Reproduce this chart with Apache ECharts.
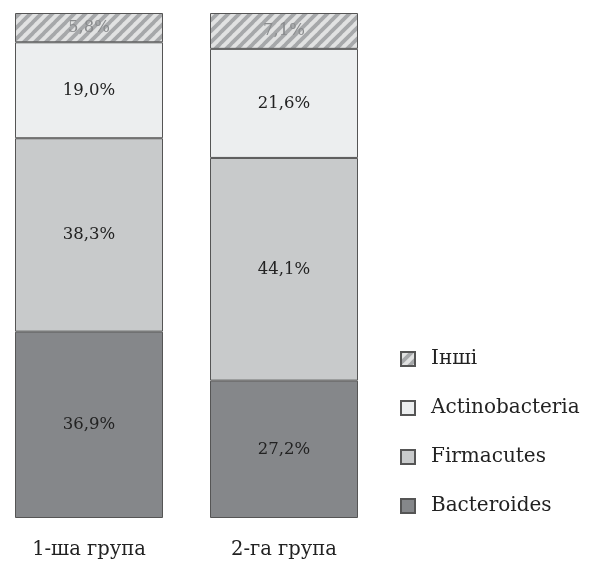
<!DOCTYPE html>
<html><head><meta charset="utf-8">
<script src="https://cdn.jsdelivr.net/npm/echarts@6/dist/echarts.min.js"></script>
<style>html,body{margin:0;padding:0;background:#fff}#c{width:590px;height:561px}</style>
</head><body><div id="c"></div>
<script>
const categories = ['1-ша група', '2-га група'];
const bacteroides = [36.9, 27.2];
const firmacutes = [38.3, 44.1];
const actinobacteria = [19.0, 21.6];
const others = [5.8, 7.1];
const legendOrder = ['Інші', 'Actinobacteria', 'Firmacutes', 'Bacteroides'];

function hatch() {
  const s = 11;
  const c = document.createElement('canvas');
  c.width = s; c.height = s;
  const g = c.getContext('2d');
  g.fillStyle = '#e1e2e2';
  g.fillRect(0, 0, s, s);
  g.strokeStyle = '#a6a8aa';
  g.lineWidth = 3.8;
  for (let k = -1; k <= 1; k++) {
    g.beginPath();
    g.moveTo(k * s - 1, s + 1);
    g.lineTo(k * s + s + 1, -1);
    g.stroke();
  }
  return c;
}
const serif = '"DejaVu Serif", "Liberation Serif", serif';
const fmt = p => p.value.toFixed(1).replace('.', ',') + '%';
function ser(name, data, color, labelColor) {
  return {
    name, type: 'bar', stack: 'all', data, barWidth: 148, clip: false,
    itemStyle: { color, borderColor: '#555', borderWidth: 1 },
    label: { show: true, position: 'inside', formatter: fmt, fontFamily: serif, fontSize: 16.5, color: labelColor || '#222' },
    emphasis: { disabled: true }
  };
}
const chart = echarts.init(document.getElementById('c'));
chart.setOption({
  animation: false,
  grid: { left: 89, right: 306, top: 13, bottom: 43 },
  xAxis: {
    type: 'category', data: categories, boundaryGap: false,
    axisLine: { show: false }, axisTick: { show: false },
    axisLabel: { fontFamily: serif, fontSize: 19.5, color: '#222', margin: 22 }
  },
  yAxis: { type: 'value', min: 0, max: 100, show: false, splitLine: { show: false } },
  legend: {
    orient: 'vertical', left: 400, top: 349, itemGap: 29, padding: 0,
    itemWidth: 14, itemHeight: 14, icon: 'rect',
    data: legendOrder,
    textStyle: { fontFamily: serif, fontSize: 20, color: '#222', padding: [0, 0, 0, 11] }
  },
  series: [
    ser('Bacteroides', bacteroides, '#85878a'),
    ser('Firmacutes', firmacutes, '#c8cacb'),
    ser('Actinobacteria', actinobacteria, '#eceeef'),
    ser('Інші', others, { image: hatch(), repeat: 'repeat' }, '#8a8c8e')
  ]
});
</script></body></html>
